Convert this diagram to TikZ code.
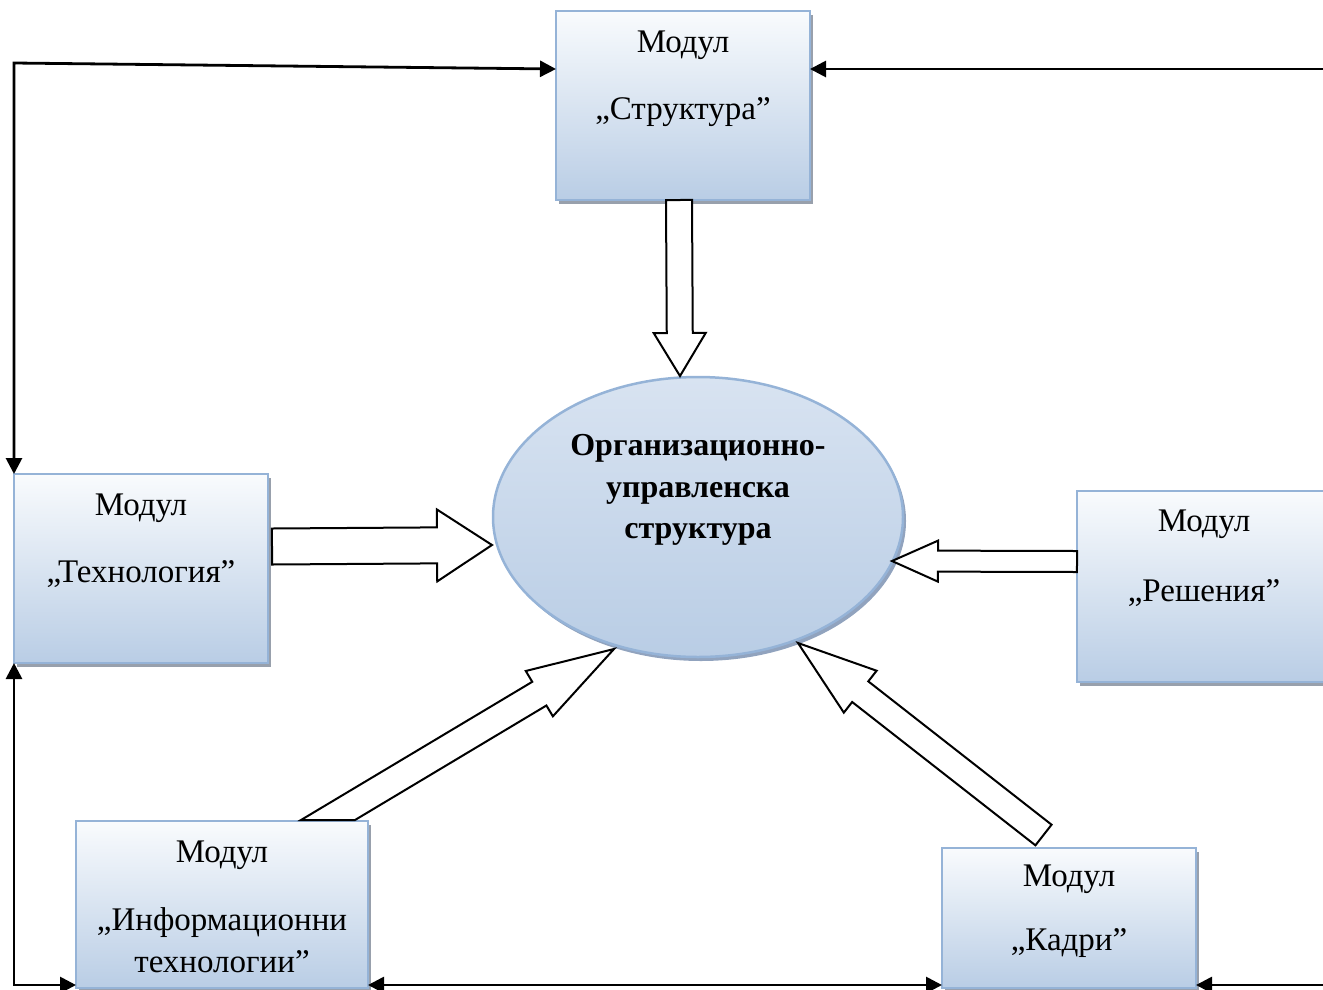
\documentclass[tikz,border=0pt]{standalone}
\usepackage{fontspec}
\setmainfont{Liberation Serif}
\usetikzlibrary{shapes.geometric,arrows.meta,calc,shadows}
\definecolor{bxborder}{RGB}{149,179,215}
\definecolor{bxbot}{RGB}{185,205,229}
\definecolor{bxtop}{RGB}{249,251,253}
\definecolor{bxshadow}{RGB}{152,160,172}
\definecolor{eltop}{RGB}{216,227,241}
\definecolor{elshadow}{RGB}{145,163,190}
\tikzset{
  modbox/.style={draw=bxborder, line width=2pt, top color=bxtop, bottom color=bxbot,
    inner sep=0pt, outer sep=0pt, minimum width=254pt,
    drop shadow={shadow xshift=3pt, shadow yshift=-4pt, fill=bxshadow, opacity=1}},
  orgell/.style={ellipse, draw=bxborder, line width=2.5pt, top color=eltop, bottom color=bxbot,
    inner sep=0pt, outer sep=0pt, minimum width=410pt, minimum height=280pt,
    drop shadow={shadow xshift=3pt, shadow yshift=-4pt, fill=elshadow, opacity=1}},
  txt/.style={font=\fontsize{33}{40}\selectfont, anchor=base, inner sep=0pt},
  btxt/.style={font=\fontsize{32}{38}\selectfont\bfseries, anchor=base, inner sep=0pt},
  conn/.style={draw=black, line width=2.8pt},
  blockarr/.style={draw=black, line width=2pt, fill=white, line join=miter},
  >={Triangle[length=16pt,width=16pt]}
}
\newcommand\myblockarrow[5]{%
  \coordinate (bah) at ($(#2)!#5!(#1)$);
  \draw[blockarr] ($(#1)!#3!90:(#2)$) -- ($(bah)!#3!90:(#2)$) -- ($(bah)!#4!90:(#2)$)
    -- (#2) -- ($(bah)!#4!-90:(#2)$) -- ($(bah)!#3!-90:(#2)$) -- ($(#1)!#3!-90:(#2)$) -- cycle;}
% variant with a horizontal tail cut (#6 = horizontal half width of the tail)
\newcommand\myblockarrowh[6]{%
  \coordinate (bah) at ($(#2)!#5!(#1)$);
  \draw[blockarr] ([xshift=-#6]#1) -- ($(bah)!#3!90:(#2)$) -- ($(bah)!#4!90:(#2)$)
    -- (#2) -- ($(bah)!#4!-90:(#2)$) -- ($(bah)!#3!-90:(#2)$) -- ([xshift=#6]#1) -- cycle;}
\begin{document}
\begin{tikzpicture}[x=1pt,y=-1pt]
\useasboundingbox (0,0) rectangle (1323,989);
\clip (0,0) rectangle (1323,989);

% boxes
\node[modbox, minimum height=189pt] (struct) at (683,105.5) {};
\node[modbox, minimum height=189pt] (tech) at (141,568.5) {};
\node[modbox, minimum height=191pt] (resh) at (1204,586.5) {};
\node[modbox, minimum width=292pt, minimum height=167pt] (info) at (222,904.5) {};
\node[modbox, minimum height=140pt] (kadri) at (1069,918) {};

% ellipse
\node[orgell] (org) at (698,517) {};

% texts
\node[txt] (s1) at ([yshift=-41pt]struct.north) {Модул};
\node[txt] (s2) at ([yshift=-108pt]struct.north) {„Структура”};
\node[txt] (t1) at ([yshift=-41pt]tech.north) {Модул};
\node[txt] (t2) at ([yshift=-108pt]tech.north) {„Технология”};
\node[txt] (r1) at ([yshift=-40pt]resh.north) {Модул};
\node[txt] (r2) at ([yshift=-110pt]resh.north) {„Решения”};
\node[txt] (i1) at ([yshift=-41pt]info.north) {Модул};
\node[txt] (i2) at ([yshift=-109pt]info.north) {„Информационни};
\node[txt] (i3) at ([yshift=-151pt]info.north) {технологии”};
\node[txt] (k1) at ([yshift=-38pt]kadri.north) {Модул};
\node[txt] (k2) at ([yshift=-102pt]kadri.north) {„Кадри”};
\node[btxt] (o1) at ([yshift=62pt]org.center) {Организационно-};
\node[btxt] (o2) at ([yshift=20pt]org.center) {управленска};
\node[btxt] (o3) at ([yshift=-21pt]org.center) {структура};

% connector corners
\coordinate (tl) at (14,63);
\coordinate (tr) at (1323,69);
\coordinate (bl) at (14,985);
\coordinate (br) at (1323,985);

\draw[conn,<->] (struct.west |- tr) -- (tl) -- (tl |- tech.north);
\draw[conn,->] (tr) -- (struct.east |- tr);
\draw[conn,<->] (tl |- tech.south) -- (bl) -- (info.west |- bl);
\draw[conn,<->] (info.east |- bl) -- (kadri.west |- bl);
\draw[conn,->] (br) -- (kadri.east |- br);

% block arrows
\coordinate (a1s) at ([xshift=-4pt]struct.south);
\coordinate (a1e) at ([shift={(-18,-141)}]org.center);
\coordinate (a2s) at ([shift={(4,-22)}]tech.east);
\coordinate (a2e) at ([shift={(-206,28)}]org.center);
\coordinate (a3s) at ([shift={(0,-25)}]resh.west);
\coordinate (a3e) at ([shift={(194,44)}]org.center);
\coordinate (a4s) at ([shift={(106,-1)}]info.north);
\coordinate (a4e) at ([shift={(-84,132)}]org.center);
\coordinate (a5s) at ([shift={(-25.5,-13)}]kadri.north);
\coordinate (a5e) at ([shift={(100,126)}]org.center);

\myblockarrow{a1s}{a1e}{13pt}{26pt}{43pt}
\myblockarrow{a2s}{a2e}{18pt}{36pt}{55pt}
\myblockarrow{a3s}{a3e}{10.5pt}{20.5pt}{46pt}
\myblockarrowh{a4s}{a4e}{13.8pt}{26.4pt}{87pt}{27pt}
\myblockarrow{a5s}{a5e}{13.1pt}{26.6pt}{79pt}
\end{tikzpicture}
\end{document}
